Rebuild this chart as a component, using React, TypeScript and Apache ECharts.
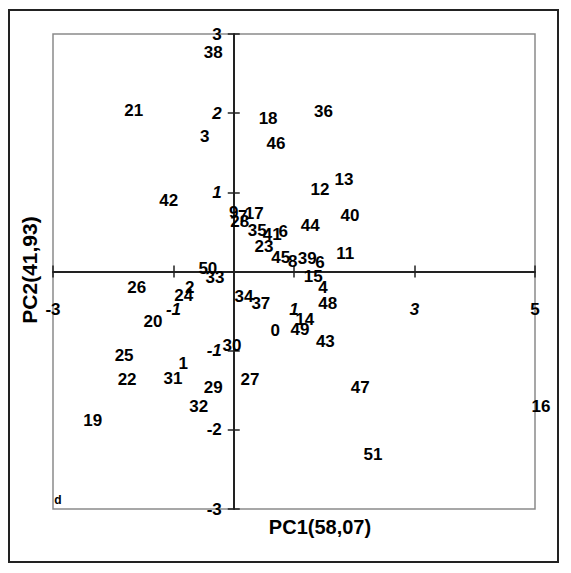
import React, { useEffect, useRef } from "react";
import * as echarts from "echarts";

const labels = ["38","21","3","18","36","46","42","13","12","40","9","7","17","28","35","41","6","44","23","11","45","8","39","6","50","33","15","2","24","26","4","34","37","48","20","14","0","49","43","30","25","1","22","31","29","27","47","32","19","16","51"];
const pc1 = [-0.34,-1.66,-0.48,0.57,1.49,0.70,-1.08,1.83,1.43,1.93,0.00,0.15,0.34,0.10,0.39,0.64,0.82,1.27,0.50,1.85,0.78,0.98,1.22,1.43,-0.43,-0.31,1.32,-0.73,-0.83,-1.61,1.48,0.17,0.45,1.56,-1.34,1.18,0.69,1.10,1.52,-0.03,-1.82,-0.84,-1.77,-1.01,-0.34,0.27,2.10,-0.58,-2.34,5.10,2.31];
const pc2 = [2.77,2.04,1.71,1.93,2.02,1.62,0.90,1.16,1.03,0.71,0.75,0.70,0.73,0.63,0.52,0.47,0.50,0.58,0.32,0.23,0.18,0.13,0.16,0.12,0.04,-0.07,-0.06,-0.20,-0.30,-0.20,-0.20,-0.32,-0.41,-0.41,-0.63,-0.61,-0.74,-0.73,-0.89,-0.93,-1.06,-1.16,-1.37,-1.35,-1.46,-1.36,-1.47,-1.71,-1.88,-1.71,-2.31];
const xTickLabels: Record<string, string> = { "-3": "{n|-3}", "-1": "{i|-1}", "1": "{i|1}", "3": "{i|3}", "5": "{n|5}" };
const yTickLabels: Record<string, string> = { "3": "{n|3}", "2": "{i|2}", "1": "{i|1}", "0": "", "-1": "{i|-1}", "-2": "{n|-2}", "-3": "{n|-3}" };

const FONT = "'Liberation Sans', Arial, sans-serif";
const rich = {
  n: { fontFamily: FONT, fontSize: 17, fontWeight: "bold", color: "#000" },
  i: { fontFamily: FONT, fontSize: 17, fontWeight: "bold", fontStyle: "italic", color: "#000" },
};

const GL = 53, GT = 34, GW = 482, GH = 475;
const XMIN = -3, XMAX = 5, YMIN = -3, YMAX = 3;
// offsets that move the axes onto the zero lines
const yZeroFromBottom = ((0 - YMIN) / (YMAX - YMIN)) * GH;
const xZeroFromLeft = ((0 - XMIN) / (XMAX - XMIN)) * GW;

export default function App() {
  const ref = useRef<HTMLDivElement>(null);
  useEffect(() => {
    if (!ref.current) return;
    const chart = echarts.init(ref.current, null, { renderer: "svg" });
    const data = labels.map((l, i) => ({ name: l, value: [pc1[i], pc2[i]] }));
    const tickStyle = { color: "#222", width: 1.5 };
    chart.setOption({
      animation: false,
      backgroundColor: "#fff",
      grid: { left: GL, top: GT, width: GW, height: GH, show: true, borderColor: "#8a8a8a", borderWidth: 1.5, backgroundColor: "transparent" },
      xAxis: [
        {
          type: "value", min: XMIN, max: XMAX, interval: 2, position: "bottom", offset: -yZeroFromBottom,
          axisLine: { onZero: false, lineStyle: { color: "#222", width: 2 } },
          axisTick: { show: true, length: 6, lineStyle: tickStyle },
          axisLabel: { margin: 29, formatter: (v: number) => xTickLabels[String(v)] ?? "", rich },
          splitLine: { show: false },
        },
        {
          type: "value", min: XMIN, max: XMAX, interval: 2, position: "bottom", offset: -yZeroFromBottom,
          axisLine: { show: false, onZero: false },
          axisTick: { show: true, inside: true, length: 6, lineStyle: tickStyle },
          axisLabel: { show: false },
          splitLine: { show: false },
        },
      ],
      yAxis: [
        {
          type: "value", min: YMIN, max: YMAX, interval: 1, position: "left", offset: -xZeroFromLeft,
          axisLine: { onZero: false, lineStyle: { color: "#222", width: 2 } },
          axisTick: { show: true, length: 6, lineStyle: tickStyle },
          axisLabel: { margin: 12, formatter: (v: number) => yTickLabels[String(v)] ?? "", rich },
          splitLine: { show: false },
        },
        {
          type: "value", min: YMIN, max: YMAX, interval: 1, position: "left", offset: -xZeroFromLeft,
          axisLine: { show: false, onZero: false },
          axisTick: { show: true, inside: true, length: 6, lineStyle: tickStyle },
          axisLabel: { show: false },
          splitLine: { show: false },
        },
      ],
      series: [
        {
          type: "scatter",
          data,
          clip: false,
          symbolSize: 2,
          itemStyle: { color: "rgba(0,0,0,0)", opacity: 1 },
          label: {
            show: true, position: ["50%", "50%"], align: "center", verticalAlign: "middle", formatter: "{b}",
            fontFamily: FONT, fontSize: 17, fontWeight: "bold", color: "#000",
            textBorderWidth: 0,
          },
          emphasis: { disabled: true },
        },
      ],
      graphic: [
        { type: "rect", shape: { x: 9, y: 10, width: 549, height: 552 }, style: { fill: "none", stroke: "#222", lineWidth: 2 } },
        { type: "text", x: 320, y: 527, style: { text: "PC1(58,07)", font: "bold 20px " + FONT, fill: "#000", textAlign: "center", textVerticalAlign: "middle" } },
        { type: "text", x: 29, y: 270, rotation: Math.PI / 2, style: { text: "PC2(41,93)", font: "bold 21px " + FONT, fill: "#000", textAlign: "center", textVerticalAlign: "middle" } },
        { type: "text", x: 58, y: 500, style: { text: "d", font: "bold 12px " + FONT, fill: "#000", textAlign: "center", textVerticalAlign: "middle" } },
      ],
    });
    return () => chart.dispose();
  }, []);
  return <div ref={ref} style={{ position: "absolute", left: 0, top: 0, width: 571, height: 573 }} />;
}
